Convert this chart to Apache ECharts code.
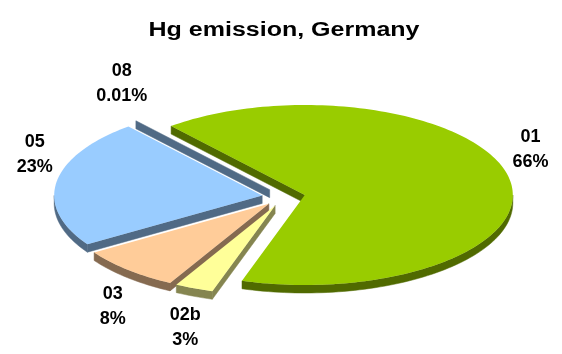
<!DOCTYPE html>
<html>
<head>
<meta charset="utf-8">
<script src="https://cdn.jsdelivr.net/npm/echarts@6/dist/echarts.min.js"></script>
<style>
  html, body { margin: 0; padding: 0; background: #ffffff; }
  #chart { width: 562px; height: 354px; }
</style>
</head>
<body>
<div id="chart"></div>
<script>
// Emission shares by source category (percent)
const categories = ['01', '02b', '03', '05', '08'];
const shares = [66, 3, 8, 23, 0.01];
const titleText = 'Hg emission, Germany';

// Top-face colours per category
const topColors = ['#99CC00', '#FFFF99', '#FFCC99', '#99CCFF', '#99CCFF'];

// Tilted-pie geometry: centre as canvas fractions, radii/depth in px
const PIE = { cx: 0.5046, cy: 0.556, rx: 208, ry: 90, depth: 8, explode: 0.104, startAngle: 230 };
const LABEL_FONT = 'bold 18px "Liberation Sans", Arial, sans-serif';

function shade(hex, f) {
  const n = parseInt(hex.slice(1), 16);
  const r = Math.round(((n >> 16) & 255) * f);
  const g = Math.round(((n >> 8) & 255) * f);
  const b = Math.round((n & 255) * f);
  return 'rgb(' + r + ',' + g + ',' + b + ')';
}

const rad = d => d * Math.PI / 180;

// Angular extent of each slice, clockwise on screen from startAngle
const total = shares.reduce((a, b) => a + b, 0);
const slices = [];
let acc = PIE.startAngle;
shares.forEach(v => {
  const span = v / total * 360;
  slices.push({ a1: acc, a2: acc + span, mid: acc + span / 2 });
  acc += span;
});
// paint back-to-front
const order = slices.map((s, i) => i).sort((a, b) => Math.sin(rad(slices[a].mid)) - Math.sin(rad(slices[b].mid)));
const rankOf = {};
order.forEach((idx, r) => { rankOf[idx] = r; });

function renderSlice(params, api) {
  const i = params.dataIndex;
  const value = api.value(0);
  const s = slices[i];
  const W = api.getWidth(), H = api.getHeight();
  const cx = W * PIE.cx, cy = H * PIE.cy;
  const rx = PIE.rx, ry = PIE.ry, d = PIE.depth;
  const ox = cx + PIE.explode * rx * Math.cos(rad(s.mid));
  const oy = cy + PIE.explode * ry * Math.sin(rad(s.mid));
  const P = a => [ox + rx * Math.cos(rad(a)), oy + ry * Math.sin(rad(a))];
  const arc = (lo, hi) => {
    const n = Math.max(2, Math.ceil((hi - lo) / 1.5));
    const pts = [];
    for (let k = 0; k <= n; k++) pts.push(P(lo + (hi - lo) * k / n));
    return pts;
  };
  const down = p => [p[0], p[1] + d];
  const topC = topColors[i];
  const sideC = shade(topC, 0.52);
  const base = rankOf[i] * 10;
  const children = [];

  // radial walls
  if (Math.cos(rad(s.a1)) < 0) {
    const p = P(s.a1);
    children.push({ type: 'polygon', z2: base, shape: { points: [[ox, oy], p, down(p), [ox, oy + d]] },
      style: { fill: sideC, stroke: sideC, lineWidth: 0.5 } });
  }
  if (Math.cos(rad(s.a2)) > 0) {
    const p = P(s.a2);
    children.push({ type: 'polygon', z2: base, shape: { points: [[ox, oy], p, down(p), [ox, oy + d]] },
      style: { fill: sideC, stroke: sideC, lineWidth: 0.5 } });
  }
  // curved outer wall on the front half
  for (let k = Math.floor(s.a1 / 360) - 1; k <= Math.floor(s.a2 / 360) + 1; k++) {
    const lo = Math.max(s.a1, k * 360), hi = Math.min(s.a2, k * 360 + 180);
    if (hi > lo) {
      const upper = arc(lo, hi);
      const lower = upper.map(down).reverse();
      children.push({ type: 'polygon', z2: base + 1, shape: { points: upper.concat(lower) },
        style: { fill: sideC, stroke: sideC, lineWidth: 0.5 } });
    }
  }
  // top face
  if (s.a2 - s.a1 > 0.2) {
    children.push({ type: 'polygon', z2: base + 2, shape: { points: [[ox, oy]].concat(arc(s.a1, s.a2)) },
      style: { fill: topC } });
  }
  // label outside the rim
  const sn = Math.sin(rad(s.mid)), cs = Math.cos(rad(s.mid));
  const lx = cx + 1.21 * rx * cs;
  const ly = cy + 1.28 * ry * sn + (sn >= 0 ? 25 : -25);
  children.push({ type: 'text', z2: 100, x: lx, y: ly,
    style: { text: categories[i] + '\n' + value + '%', font: LABEL_FONT, fill: '#000000',
      align: 'center', verticalAlign: 'middle', lineHeight: 25 } });
  return { type: 'group', children: children };
}

const chart = echarts.init(document.getElementById('chart'), null, { renderer: 'canvas' });
chart.setOption({
  backgroundColor: '#ffffff',
  animation: false,
  graphic: [{
    type: 'text', x: 284, y: 30, scaleX: 1.25,
    style: { text: titleText, font: 'bold 20px "Liberation Sans", Arial, sans-serif', fill: '#000000',
      align: 'center', verticalAlign: 'middle' }
  }],
  series: [{
    type: 'custom',
    coordinateSystem: 'none',
    renderItem: renderSlice,
    data: shares.map((v, i) => ({ name: categories[i], value: [v] }))
  }]
});
</script>
</body>
</html>
